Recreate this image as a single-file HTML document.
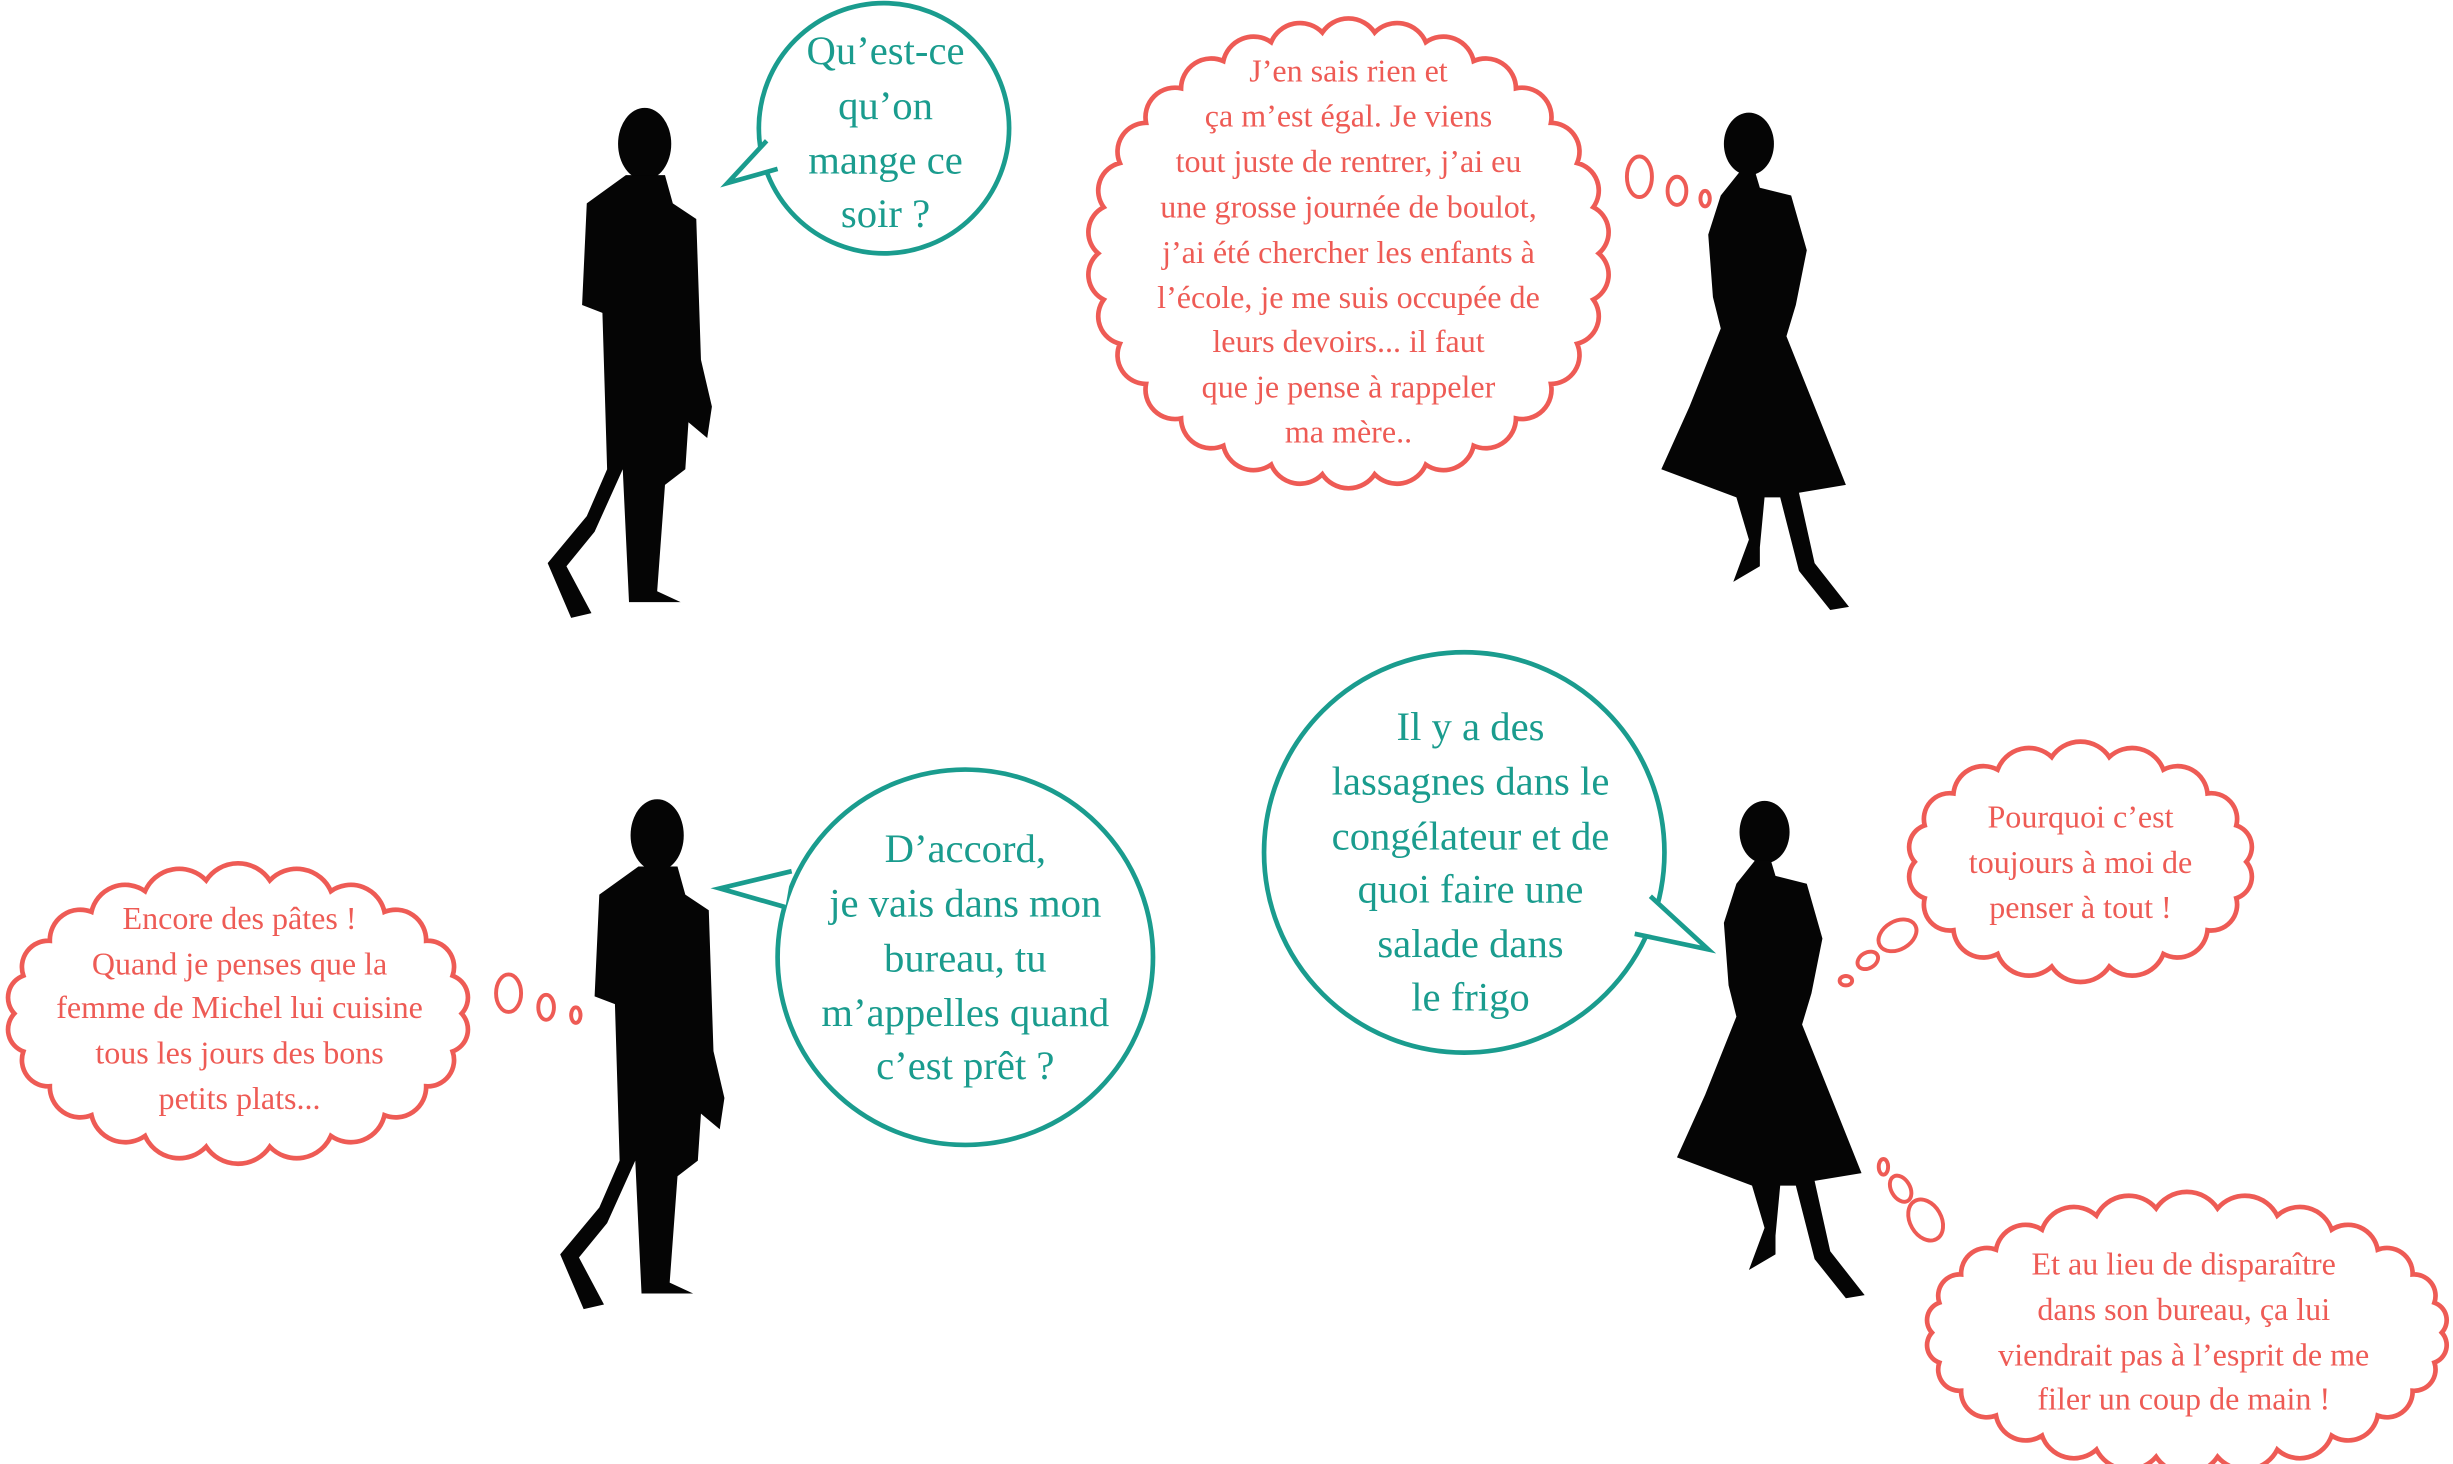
<!DOCTYPE html>
<html><head><meta charset="utf-8">
<style>
html,body{margin:0;padding:0;background:#fff;}
svg{display:block;}
text{font-family:"Liberation Serif",serif;}
.t{fill:#1a9c8e;font-size:26px;}
.r{fill:#ee5b55;font-size:20.5px;}
</style></head><body>
<svg id="s" width="2453" height="1464" viewBox="0 0 1568 936" xmlns="http://www.w3.org/2000/svg">
<g fill="#fff" stroke="#1a9c8e" stroke-width="3" stroke-linejoin="miter">
<circle cx="565" cy="82" r="80"/>
<path d="M 490 90 L 465 117 L 497 108"/>
<circle cx="617" cy="612" r="120"/>
<path d="M 506 557 L 460 568 L 502 580"/>
<circle cx="936" cy="545" r="128"/>
<path d="M 1055 573 L 1092 607 L 1045 597"/>
</g>
<g id="clouds" fill="#fff" stroke="#ee5b55" stroke-width="3"></g>
<g fill="none" stroke="#ee5b55" stroke-width="2.5">
<ellipse cx="1048" cy="113" rx="8" ry="13"/><ellipse cx="1072" cy="122" rx="6" ry="9"/><ellipse cx="1090" cy="127" rx="3" ry="5"/>
<ellipse cx="325" cy="635" rx="8" ry="12"/><ellipse cx="349" cy="644" rx="5" ry="8"/><ellipse cx="368" cy="649" rx="3" ry="5"/>
<ellipse cx="1213" cy="598" rx="13" ry="9" transform="rotate(-30 1213 598)"/><ellipse cx="1194" cy="614" rx="7" ry="5" transform="rotate(-30 1194 614)"/><ellipse cx="1180" cy="627" rx="4" ry="3"/>
<ellipse cx="1231" cy="780" rx="10" ry="14" transform="rotate(-30 1231 780)"/><ellipse cx="1215" cy="760" rx="6" ry="9" transform="rotate(-30 1215 760)"/><ellipse cx="1204" cy="746" rx="3" ry="5"/>
</g>
<g fill="#050505">
<g id="man">
<ellipse cx="412" cy="92" rx="17" ry="23"/>
<path d="M400 112 L425 112 L430 130 L445 140 L448 230 L455 260 L452 280 L440 270 L438 300 L425 310 L420 378 L435 385 L402 385 L398 300 L380 340 L362 362 L378 392 L365 395 L350 360 L375 330 L388 300 L385 200 L372 195 L375 130 Z"/>
</g>
<use href="#man" transform="translate(8 442)"/>
<g id="wom">
<ellipse cx="1118" cy="92" rx="16" ry="20"/>
<path d="M1112 110 L1122 110 L1125 120 L1145 125 L1155 160 L1148 195 L1142 215 L1160 260 L1180 310 L1150 315 L1160 360 L1182 388 L1170 390 L1150 365 L1138 318 L1128 318 L1125 350 L1125 362 L1108 372 L1118 345 L1110 318 L1062 300 L1080 260 L1100 210 L1095 190 L1092 150 L1100 125 Z"/>
</g>
<use href="#wom" transform="translate(10 440)"/>
</g>
<g text-anchor="middle">
<text class="t" x="566" y="41">Qu’est-ce</text><text class="t" x="566" y="76">qu’on</text><text class="t" x="566" y="111">mange ce</text><text class="t" x="566" y="145">soir ?</text>
<text class="r" x="862" y="52">J’en sais rien et</text><text class="r" x="862" y="81">ça m’est égal.  Je viens</text><text class="r" x="862" y="110">tout juste de rentrer, j’ai eu</text><text class="r" x="862" y="139">une grosse journée de boulot,</text><text class="r" x="862" y="168">j’ai été chercher les enfants à</text><text class="r" x="862" y="197">l’école, je me suis occupée de</text><text class="r" x="862" y="225">leurs devoirs... il faut</text><text class="r" x="862" y="254">que je pense à rappeler</text><text class="r" x="862" y="283">ma mère..</text>
<text class="r" x="153" y="594">Encore des pâtes !</text><text class="r" x="153" y="623">Quand je penses que la</text><text class="r" x="153" y="651">femme de Michel lui cuisine</text><text class="r" x="153" y="680">tous les jours des bons</text><text class="r" x="153" y="709">petits plats...</text>
<text class="r" x="1330" y="529">Pourquoi c’est</text><text class="r" x="1330" y="558">toujours à moi de</text><text class="r" x="1330" y="587">penser à tout !</text>
<text class="r" x="1396" y="815">Et au lieu de disparaître</text><text class="r" x="1396" y="844">dans son bureau, ça lui</text><text class="r" x="1396" y="873">viendrait pas à l’esprit de me</text><text class="r" x="1396" y="901">filer un coup de main !</text>
<text class="t" x="617" y="551">D’accord,</text><text class="t" x="617" y="586">je vais dans mon</text><text class="t" x="617" y="621">bureau, tu</text><text class="t" x="617" y="656">m’appelles quand</text><text class="t" x="617" y="690">c’est prêt ?</text>
<text class="t" x="940" y="473">Il y a des</text><text class="t" x="940" y="508">lassagnes dans le</text><text class="t" x="940" y="543">congélateur et de</text><text class="t" x="940" y="577">quoi faire une</text><text class="t" x="940" y="612">salade dans</text><text class="t" x="940" y="646">le frigo</text>
</g>
<script>
(function(){
 var g=document.getElementById('clouds');
 var C=[[862,162,160,142,30],[152,648,143,86,22],[1330,551,106,68,18],[1398,852,163,80,26]];
 C.forEach(function(c){
  var cx=c[0],cy=c[1],rx=c[2],ry=c[3],n=c[4],d='';
  for(var i=0;i<=n;i++){
   var a=i/n*Math.PI*2;
   var x=cx+rx*Math.cos(a),y=cy+ry*Math.sin(a);
   if(i==0){d+='M'+x+' '+y;continue;}
   var pa=(i-1)/n*Math.PI*2;
   var px=cx+rx*Math.cos(pa),py=cy+ry*Math.sin(pa);
   var ch=Math.hypot(x-px,y-py);
   d+=' A'+(ch*0.6)+' '+(ch*0.6)+' 0 0 1 '+x+' '+y;
  }
  var p=document.createElementNS('http://www.w3.org/2000/svg','path');
  p.setAttribute('d',d+'Z');g.appendChild(p);
 });
})();
</script>
</svg>
</body></html>
